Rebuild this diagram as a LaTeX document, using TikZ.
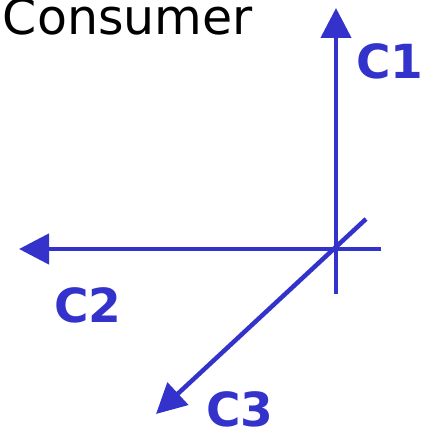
\documentclass[tikz,border=0pt]{standalone}
\usepackage{fontspec}
\setmainfont{DejaVu Sans}
\usetikzlibrary{arrows.meta, positioning}
\definecolor{axisblue}{HTML}{3333CC}

\begin{document}
\begin{tikzpicture}[
    x=1pt, y=1pt,
    axis/.style={draw=axisblue, line width=4.5pt},
    arr/.style={axis, -{Triangle[length=30pt, width=30pt]}},
    clabel/.style={text=axisblue, font=\fontsize{47}{47}\selectfont\bfseries, inner sep=0pt},
]
\useasboundingbox (0,0) rectangle (432,-428);
\node[anchor=base east, inner sep=0pt, font=\fontsize{49}{49}\selectfont] (title) at (253,-35) {Consumer};

\coordinate (origin) at (336,-248);
\coordinate (c1tip) at (336,-8);
\coordinate (c1end) at (336,-294);
\coordinate (c2tip) at (19,-249);
\coordinate (c2end) at (381,-249);
\coordinate (c3tip) at (156,-414);
\coordinate (c3end) at (366,-219);

\draw[arr] (c1end) -- (c1tip);
\draw[arr] (c2end) -- (c2tip);
\draw[arr] (c3end) -- (c3tip);

\node[clabel, anchor=base west] (c1) at (356,-79) {C1};
\node[clabel, anchor=base west] (c2) at (54,-323) {C2};
\node[clabel, anchor=base west] (c3) at (206,-426) {C3};
\end{tikzpicture}
\end{document}
